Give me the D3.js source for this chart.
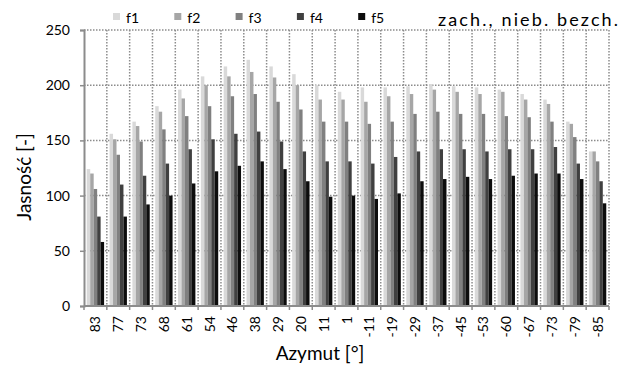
<!DOCTYPE html>
<html>
<head>
<meta charset="utf-8">
<script src="https://cdn.jsdelivr.net/npm/d3@7"></script>
<style>
  body { margin: 0; background: #fff; }
  svg { display: block; font-family: Lato, "Open Sans", sans-serif; }
</style>
</head>
<body>
<div id="chart"></div>
<script>
const categories = ["83","77","73","68","61","54","46","38","29","20","11","1","-11","-19","-29","-37","-45","-53","-60","-67","-73","-79","-85"];
const seriesNames = ["f1","f2","f3","f4","f5"];
const f1 = [124,156,167,181,196,208,217,223,217,210,200,194,198,198,199,201,199,198,196,192,187,167,140];
const f2 = [120,151,163,176,188,200,208,212,207,200,187,187,185,190,192,196,194,192,194,187,183,165,140];
const f3 = [106,137,149,160,172,181,190,192,185,178,167,167,165,167,174,176,174,174,172,171,167,153,131];
const f4 = [81,110,118,129,142,151,156,158,149,140,131,131,129,135,140,142,142,140,142,142,144,129,113];
const f5 = [58,81,92,100,111,122,127,131,124,113,99,100,97,102,113,115,117,115,118,120,120,115,93];
const yTicks = [0, 50, 100, 150, 200, 250];
const colors = ["#d9d9d9","#a6a6a6","#808080","#404040","#0d0d0d"];

const series = [f1, f2, f3, f4, f5];
const width = 625, height = 365;
const margin = { top: 30, right: 16, bottom: 59, left: 84 };
const plotW = width - margin.left - margin.right;
const plotH = height - margin.top - margin.bottom;

const svg = d3.select('#chart').append('svg')
  .attr('width', width)
  .attr('height', height);

const g = svg.append('g').attr('transform', `translate(${margin.left},${margin.top})`);

const x = d3.scaleBand().domain(categories).range([0, plotW]).paddingInner(0.24).paddingOuter(0.12);
const step = plotW / categories.length;
const xs = d3.scaleBand().domain(seriesNames).range([0, x.bandwidth()]);
const y = d3.scaleLinear().domain([0, 250]).range([plotH, 0]);

const gridColor = '#8c8c8c';

// horizontal gridlines
g.append('g').selectAll('line').data(yTicks.filter(d => d > 0)).join('line')
  .attr('x1', 0).attr('x2', plotW)
  .attr('y1', d => y(d)).attr('y2', d => y(d))
  .attr('stroke', gridColor).attr('stroke-width', 1.5)
  .attr('stroke-dasharray', '1.5,1.5');

// vertical gridlines at category boundaries
g.append('g').selectAll('line').data(d3.range(1, categories.length + 1)).join('line')
  .attr('x1', i => i * step).attr('x2', i => i * step)
  .attr('y1', 0).attr('y2', plotH)
  .attr('stroke', gridColor).attr('stroke-width', 1.5)
  .attr('stroke-dasharray', '1.5,1.5');

// bars
const groups = g.append('g').selectAll('g').data(categories).join('g')
  .attr('transform', d => `translate(${x(d)},0)`);

groups.selectAll('rect')
  .data((d, i) => series.map((s, k) => ({ key: seriesNames[k], value: s[i], color: colors[k] })))
  .join('rect')
  .attr('x', d => xs(d.key))
  .attr('width', xs.bandwidth())
  .attr('y', d => y(d.value))
  .attr('height', d => plotH - y(d.value))
  .attr('fill', d => d.color);

// y axis
const yAxis = g.append('g')
  .call(d3.axisLeft(y).tickValues(yTicks).tickSize(4).tickPadding(10));
yAxis.select('.domain').attr('stroke', gridColor).attr('stroke-width', 2);
yAxis.selectAll('.tick line').attr('stroke', gridColor).attr('stroke-width', 1.5);
yAxis.selectAll('.tick text').attr('font-size', 14).attr('fill', '#000')
  .attr('font-family', 'Lato, sans-serif');

// x axis baseline and boundary ticks
g.append('line')
  .attr('x1', 0).attr('x2', plotW)
  .attr('y1', plotH).attr('y2', plotH)
  .attr('stroke', gridColor).attr('stroke-width', 2);
g.append('g').selectAll('line').data(d3.range(0, categories.length + 1)).join('line')
  .attr('x1', i => i * step).attr('x2', i => i * step)
  .attr('y1', plotH).attr('y2', plotH + 4)
  .attr('stroke', gridColor).attr('stroke-width', 1.5);

// x labels, rotated
g.append('g').selectAll('text').data(categories).join('text')
  .attr('transform', d => `translate(${x(d) + x.bandwidth() / 2 + 5},${plotH + 10}) rotate(-90)`)
  .attr('text-anchor', 'end')
  .attr('font-size', 14)
  .text(d => d);

// axis titles
svg.append('text')
  .attr('x', 320).attr('y', 360)
  .attr('text-anchor', 'middle')
  .attr('font-size', 19)
  .text('Azymut [°]');

svg.append('text')
  .attr('transform', 'translate(31,177) rotate(-90)')
  .attr('text-anchor', 'middle')
  .attr('font-size', 19)
  .text('Jasność [-]');

// legend
const legend = svg.append('g');
seriesNames.forEach((name, k) => {
  const lx = 113 + k * 61.3;
  legend.append('rect')
    .attr('x', lx).attr('y', 13)
    .attr('width', 7).attr('height', 7)
    .attr('fill', colors[k]);
  legend.append('text')
    .attr('x', lx + 13).attr('y', 23)
    .attr('font-size', 14)
    .text(name);
});

// title
svg.append('text')
  .attr('x', 438).attr('y', 26)
  .attr('font-size', 18)
  .attr('textLength', 180)
  .attr('lengthAdjust', 'spacing')
  .text('zach., nieb. bezch.');
</script>
</body>
</html>
